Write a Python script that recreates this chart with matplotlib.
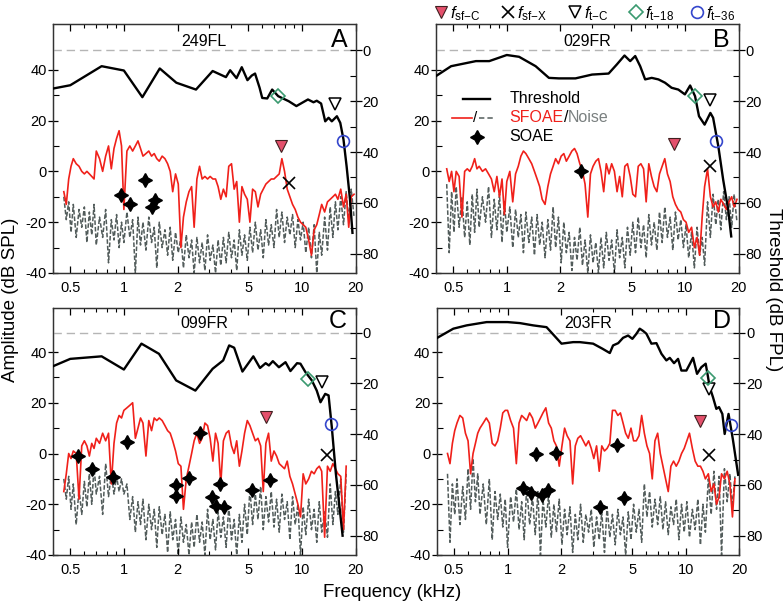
import numpy as np
import matplotlib
matplotlib.use("Agg")
import matplotlib.pyplot as plt
from matplotlib.lines import Line2D
from matplotlib.ticker import FixedLocator, FixedFormatter, NullFormatter

plt.rcParams["font.family"] = ["Liberation Sans", "DejaVu Sans"]
plt.rcParams["mathtext.fontset"] = "custom"
plt.rcParams["mathtext.rm"] = "Liberation Sans"
plt.rcParams["mathtext.it"] = "Liberation Sans:italic"
plt.rcParams["axes.unicode_minus"] = False

nan = float("nan")

# frequency grid (kHz) shared by the SFOAE and noise traces
FREQ_KHZ = [
    0.46, 0.475, 0.49, 0.505, 0.52, 0.54, 0.56, 0.58, 0.60, 0.62,
    0.64, 0.66, 0.68, 0.70, 0.73, 0.76, 0.79, 0.82, 0.85, 0.88,
    0.91, 0.94, 0.97, 1.00, 1.04, 1.08, 1.12, 1.16, 1.20, 1.24,
    1.28, 1.33, 1.38, 1.43, 1.48, 1.53, 1.58, 1.64, 1.70, 1.76,
    1.82, 1.88, 1.95, 2.02, 2.09, 2.16, 2.24, 2.32, 2.40, 2.48,
    2.57, 2.66, 2.75, 2.85, 2.95, 3.05, 3.16, 3.27, 3.38, 3.50,
    3.62, 3.75, 3.88, 4.02, 4.16, 4.30, 4.45, 4.60, 4.76, 4.93,
    5.10, 5.28, 5.47, 5.66, 5.86, 6.06, 6.27, 6.49, 6.72, 6.96,
    7.20, 7.45, 7.71, 7.98, 8.26, 8.55, 8.85, 9.16, 9.48, 9.81,
    10.15, 10.5, 10.9, 11.3, 11.7, 12.1, 12.5, 12.9, 13.4, 13.9,
    14.4, 14.9, 15.4, 15.9, 16.5, 17.1, 17.7, 18.3, 18.9, 19.6,
]

# ---- 249FL (A)
A_SFOAE = [
    -8, -13, -3, 2, 5, 3, 2, 0, -1, 0,
    -1, -2, -3, 8, 5, 0, 6, 10, 1, 9,
    13, 16, 10, -15, 8, 10, 8, 10, 12, 9,
    6, 7, 8, 6, 7, 5, 4, 6, 5, 3,
    0, -8, -1, -5, -30, -18, -12, -8, -6, -22,
    -3, 2, -3, -2, -3, -2, -3, -3, -6, -11,
    -7, -10, 2, 3, -7, -4, -20, -6, -9, -11,
    -20, -7, -8, -14, -9, -7, -5, -4, -3, -3,
    -2, -1, 5, 0, -7, -10, -13, -15, -18, -20,
    -21, -22, -27, -33, -23, -21, -17, -13, -16, -12,
    -11, -10, -9, -11, -7, -14, -9, -22, -10, -9,
]
A_NOISE = [
    -10, -19, -12, -24, -13, -26, -15, -22, -14, -28,
    -16, -25, -13, -29, -18, -26, -15, -36, -19, -27,
    -17, -30, -20, -28, -16, -26, -19, -40, -18, -29,
    -20, -31, -18, -28, -22, -38, -20, -30, -23, -33,
    -22, -35, -24, -32, -26, -38, -25, -34, -27, -40,
    -26, -36, -28, -39, -25, -35, -29, -40, -27, -37,
    -26, -36, -24, -34, -27, -39, -23, -33, -25, -35,
    -22, -32, -20, -31, -23, -34, -19, -29, -21, -30,
    -15, -26, -16, -28, -18, -25, -17, -30, -19, -27,
    -20, -32, -22, -34, -21, -40, -24, -33, -18, -31,
    -14, -26, -12, -23, -10, -21, -8, -19, -7, -18,
]
A_THR_F = [0.40, 0.50, 0.75, 1.0, 1.27, 1.59, 1.97, 2.54, 3.15, 3.74,
           3.95, 4.29, 4.59, 4.94, 5.22, 5.45, 5.78, 5.98, 6.38, 6.80,
           7.35, 8.43, 9.30, 10.8, 11.6, 12.1, 12.8, 13.5, 14.1, 14.7,
           15.7, 16.4, 17.1, 17.8, 18.6, 19.2]
A_THR_DB = [15.0, 13.7, 6.2, 7.9, 18.4, 7.1, 12.7, 15.4, 8.1, 10.5,
            7.8, 10.9, 6.6, 11.7, 9.9, 9.1, 14.7, 18.7, 18.9, 15.4,
            18.0, 20.0, 21.9, 19.3, 20.4, 19.8, 20.9, 27.9, 26.5, 27.9,
            25.9, 28.5, 35.1, 45.6, 58.7, 71.8]
A_SOAE_F = [0.958, 1.08, 1.32, 1.43, 1.49]
A_SOAE_DB = [-9.2, -12.7, -3.5, -14.0, -11.1]

# ---- 029FR (B)
B_SFOAE = [
    1, -4, 0, -8, 0, -2, -18, 0, 1, 0,
    2, 5, 1, 2, 0, 1, -1, -3, -8, -2,
    -10, -3, -17, -4, 0, -12, -1, 2, 6, 8,
    7, 5, 3, 0, -3, -6, -11, -13, -6, -1,
    2, 5, 3, 6, 7, 4, 6, 8, 9, 7,
    3, 0, -5, -18, -1, 2, 4, 5, 0, -8,
    3, -1, 3, 0, -8, -2, -10, 2, 3, -2,
    -9, -10, 2, 3, 1, -12, 3, -2, -6, -8,
    -1, 2, 5, -1, -4, -10, -13, -15, -16, -19,
    -20, -24, -22, -30, -26, -33, -18, -6, 1, -10,
    -14, -12, -16, -11, -13, -15, -12, -10, -14, -11,
]
B_NOISE = [
    -5, -32, -8, -24, -6, -22, -10, -26, -12, -29,
    -9, -24, -7, -22, -10, -20, -6, -26, -11, -23,
    -9, -28, -12, -24, -14, -30, -15, -26, -17, -32,
    -16, -28, -18, -33, -17, -29, -20, -34, -19, -31,
    -14, -30, -18, -36, -20, -32, -24, -39, -26, -35,
    -22, -37, -27, -40, -25, -36, -28, -40, -26, -38,
    -24, -35, -27, -40, -23, -34, -26, -38, -22, -33,
    -20, -32, -18, -30, -21, -34, -17, -29, -20, -31,
    -16, -28, -14, -26, -18, -31, -16, -27, -19, -30,
    -21, -34, -24, -38, -22, -33, -26, -37, -12, -26,
    -9, -21, -11, -23, -8, -19, -10, -22, -9, -20,
]
B_THR_F = [0.40, 0.487, 0.671, 0.797, 1.0, 1.172, 1.452, 1.724, 1.96, 2.43,
           3.01, 3.73, 4.15, 4.58, 4.93, 5.26, 5.61, 5.98, 6.51, 7.10,
           7.73, 8.42, 9.18, 10.0, 10.7, 11.4, 12.0, 12.9, 13.9, 14.4,
           15.4, 16.4, 17.5, 18.2]
B_THR_DB = [10.1, 6.2, 4.2, 4.2, 1.8, 2.5, 6.2, 10.8, 11.0, 11.0,
            9.5, 9.1, 5.5, 2.0, 4.2, 2.2, 6.2, 11.4, 10.8, 11.4,
            12.7, 14.7, 15.4, 17.3, 13.8, 18.0, 25.9, 29.2, 24.6, 26.5,
            37.7, 50.9, 62.7, 73.2]
B_SOAE_F = [2.6]
B_SOAE_DB = [0.0]

# ---- 099FR (C)
C_SFOAE = [
    -15, -8, 0, -2, 1, 0, -18, 3, 5, 3,
    -1, 4, 2, 6, 4, 8, 5, 8, -12, 4,
    12, 15, 14, 17, 18, 19, 20, 6, 10, 14,
    12, -1, 13, 9, 14, 13, 14, 13, 11, 9,
    8, 5, 1, -4, -5, -22, -10, -5, 0, 5,
    8, 4, 6, 12, 11, 6, -3, 8, 4, -12,
    5, 8, 9, 3, 0, 5, -5, 1, 8, 13,
    11, 8, 5, 6, 3, -15, 4, 8, -3, 1,
    -1, -4, -5, -6, -3, -9, -12, -16, -20, -25,
    -8, -12, -10, -7, -8, -6, -5, -7, -33, -5,
    -7, -4, -6, -8, -9, -30, -5, nan, nan, nan,
]
C_NOISE = [
    -10, -18, -9, -22, -12, -28, -14, -24, -11, -21,
    -8, -20, -5, -16, -9, -24, -4, -17, -8, -16,
    -9, -15, -10, -16, -12, -26, -17, -31, -19, -28,
    -18, -34, -20, -30, -22, -37, -21, -32, -24, -39,
    -23, -34, -26, -40, -25, -35, -28, -40, -27, -37,
    -24, -35, -27, -40, -22, -34, -26, -38, -23, -33,
    -25, -37, -21, -34, -26, -40, -24, -35, -20, -32,
    -14, -28, -16, -26, -13, -30, -17, -27, -15, -29,
    -18, -31, -16, -26, -19, -34, -17, -28, -20, -40,
    -21, -32, -18, -30, -22, -35, -19, -31, -23, -33,
    -12, -28, -15, -24, -10, -31, -8, nan, nan, nan,
]
C_THR_F = [0.40, 0.50, 0.75, 1.0, 1.255, 1.574, 1.966, 2.52, 3.15, 3.61,
           3.90, 4.16, 4.63, 5.33, 5.81, 6.25, 6.52, 6.86, 7.42, 8.08,
           8.61, 9.38, 9.80, 10.45, 11.36, 12.1, 12.7, 13.5, 14.1, 14.7,
           15.5, 16.4, 16.9]
C_THR_DB = [13.2, 10.3, 9.3, 14.5, 4.3, 8.3, 18.8, 22.8, 14.2, 10.9,
            5.0, 5.9, 15.3, 9.3, 13.9, 12.0, 12.9, 11.2, 13.6, 11.6,
            15.1, 12.0, 12.2, 15.5, 18.8, 22.8, 27.4, 24.1, 24.7, 37.2,
            55.7, 71.4, 80.0]
C_SOAE_F = [0.552, 0.666, 0.872, 1.035, 1.966, 1.966, 2.33, 2.68, 3.11,
            3.31, 3.47, 3.67, 5.26, 6.57]
C_SOAE_DB = [-0.8, -6.3, -9.3, 4.5, -12.6, -16.6, -9.7, 8.0, -17.3,
             -20.5, -12.0, -21.2, -14.3, -10.4]

# ---- 203FR (D)
D_SFOAE = [
    0, -4, 4, 9, 12, 15, 14, 8, 5, -8,
    0, 4, 8, 10, 12, 14, 12, 4, 3, 5,
    10, 16, 17, 17, 13, 10, -4, 12, 15, 14,
    13, 16, 14, 10, 12, 14, 16, 18, 12, 10,
    5, 3, -5, 3, 10, 7, 5, -12, 3, 6,
    7, 5, 3, 5, 2, -2, 3, -7, 3, 1,
    2, 4, 17, 17, 15, 16, 12, 8, 6, 10,
    5, 5, 7, 15, 8, 3, 0, -10, 5, 8,
    0, -5, -10, -15, -5, -3, -5, -3, 0, 2,
    5, 8, 2, -3, -5, -5, -7, -10, -8, -15,
    -12, -20, -17, -8, -10, -7, -12, -25, -10, nan,
]
D_NOISE = [
    -8, -35, -12, -24, -10, -28, -13, -26, -6, -22,
    -2, -19, -8, -24, -12, -28, -10, -34, -15, -26,
    -16, -29, -18, -37, -17, -27, -14, -30, -19, -34,
    -13, -28, -17, -32, -15, -40, -18, -29, -16, -33,
    -20, -31, -18, -36, -22, -32, -21, -39, -24, -34,
    -20, -35, -24, -31, -22, -37, -25, -34, -23, -39,
    -21, -33, -24, -36, -22, -32, -25, -40, -23, -34,
    -20, -31, -22, -35, -12, -25, -15, -29, -18, -28,
    -17, -30, -19, -32, -21, -28, -18, -34, -20, -31,
    -19, -33, -22, -30, -18, -36, -20, -31, -10, -24,
    -7, -22, -9, -40, -6, -19, -8, -21, -9, nan,
]
D_THR_F = [0.403, 0.496, 0.589, 0.763, 1.0, 1.173, 1.393, 1.655, 2.009, 2.335,
           2.545, 3.022, 3.41, 3.75, 3.91, 4.18, 4.45, 4.75, 5.02, 5.29,
           5.52, 5.77, 6.02, 6.42, 6.85, 7.31, 7.79, 8.14, 8.60, 9.06,
           9.46, 10.09, 11.0, 11.58, 12.24, 12.95, 13.35, 13.63, 14.23, 14.86,
           15.38, 16.06, 16.55, 17.4, 18.4, 19.7]
D_THR_DB = [2.0, -1.6, -2.9, -4.2, -4.2, -3.8, -2.9, -2.2, 4.3, 3.7,
            3.7, 4.3, 6.3, 8.0, 5.0, 4.1, 2.0, 1.1, 2.4, 0.4,
            -1.6, -0.7, 0.4, 4.3, 4.1, 8.3, 10.9, 9.9, 12.0, 10.3,
            14.9, 14.9, 9.9, 16.2, 13.6, 12.2, 17.5, 21.4, 25.4, 30.0,
            29.3, 32.0, 39.9, 32.0, 42.0, 56.0]
D_SOAE_F = [1.224, 1.35, 1.442, 1.57, 1.69, 1.867, 3.29, 4.12, 4.49]
D_SOAE_DB = [-13.6, -15.7, -0.1, -16.3, -14.3, 0.3, -21.2, 3.2, -17.6]

# characteristic frequencies, one entry per panel A-D
FSF_C_F = [7.67, 8.7, 6.25, 12.1]
FSF_C_DB = [9.8, 10.9, 14.3, 12.8]
FSF_X_F = [8.5, 13.8, 13.8, 13.5]
FSF_X_DB = [-4.6, 2.2, -0.4, -0.4]
FT_C_F = [15.3, 13.8, 13.0, 13.6]
FT_C_DB = [21.0, 19.7, 19.5, 22.1]
FT_18_F = [7.35, 11.4, 10.87, 13.3]
FT_18_DB = [18.0, 18.0, 18.2, 17.9]
FT_36_F = [16.9, 14.9, 14.5, 18.0]
FT_36_DB = [35.7, 35.7, 35.9, 36.2]

EARS = ["249FL", "029FR", "099FR", "203FR"]
LETTERS = ["A", "B", "C", "D"]

X_MAJOR = [0.5, 1, 2, 5, 10, 20]
X_LABELS = ["0.5", "1", "2", "5", "10", "20"]
X_MINOR = [0.4, 0.6, 0.7, 0.8, 0.9, 3, 4, 6, 7, 8, 9]

RED = "#f0201a"
NOISE_C = "#525c5b"
PINK = "#e4506c"
GREEN = "#3a9a70"
BLUE = "#3446cc"
OFFSET = 47.6  # threshold (dB FPL) that sits at 0 dB SPL
STAR = (4, 1, 0)

# marker styles for the five characteristic frequencies
MK_FSF_C = dict(ls="none", marker="v", ms=8, mfc=PINK, mec="#402020", mew=0.8)
MK_FSF_X = dict(ls="none", marker="x", ms=8.5, mec="black", mew=1.2)
MK_FT_C = dict(ls="none", marker="v", ms=8, mfc="white", mec="black", mew=1.1)
MK_FT_18 = dict(ls="none", marker="D", ms=7, mfc="none", mec=GREEN, mew=1.2)
MK_FT_36 = dict(ls="none", marker="o", ms=8.5, mfc="none", mec=BLUE, mew=1.2)

fig = plt.figure(figsize=(7.84, 6.08), dpi=100)

rects = [
    [0.0676, 0.551, 0.386, 0.4095],
    [0.556, 0.551, 0.386, 0.4095],
    [0.0676, 0.0872, 0.386, 0.406],
    [0.557, 0.0872, 0.386, 0.406],
]
tops = [58.0, 58.0, 57.3, 57.3]

series = [
    (A_SFOAE, A_NOISE, A_THR_F, A_THR_DB, A_SOAE_F, A_SOAE_DB),
    (B_SFOAE, B_NOISE, B_THR_F, B_THR_DB, B_SOAE_F, B_SOAE_DB),
    (C_SFOAE, C_NOISE, C_THR_F, C_THR_DB, C_SOAE_F, C_SOAE_DB),
    (D_SFOAE, D_NOISE, D_THR_F, D_THR_DB, D_SOAE_F, D_SOAE_DB),
]

axes = []
for i, (sf, noise, thr_f, thr_db, so_f, so_db) in enumerate(series):
    ax = fig.add_axes(rects[i])
    ax2 = ax.twinx()
    axes.append(ax)

    ax.plot(FREQ_KHZ, noise, color=NOISE_C, lw=1.1, ls=(0, (3, 1.3)), zorder=1)
    ax.plot(FREQ_KHZ, sf, color=RED, lw=1.2, zorder=2)
    ax.plot(so_f, so_db, ls="none", marker=STAR, ms=10, color="black", zorder=4)
    ax.plot(FSF_C_F[i], FSF_C_DB[i], zorder=5, **MK_FSF_C)
    ax.plot(FSF_X_F[i], FSF_X_DB[i], zorder=5, **MK_FSF_X)

    ax2.axhline(0, color="#b5b5b5", lw=1.0, ls=(0, (6, 3.5)), zorder=1)
    ax2.plot(thr_f, thr_db, color="black", lw=1.7, zorder=3)
    ax2.plot(FT_C_F[i], FT_C_DB[i], zorder=5, **MK_FT_C)
    ax2.plot(FT_18_F[i], FT_18_DB[i], zorder=5, **MK_FT_18)
    ax2.plot(FT_36_F[i], FT_36_DB[i], zorder=5, **MK_FT_36)

    ax.set_xscale("log")
    ax.set_xlim(0.4, 20)
    ax.set_ylim(-40, tops[i])
    ax2.set_ylim(OFFSET + 40, OFFSET - tops[i])

    ax.xaxis.set_major_locator(FixedLocator(X_MAJOR))
    ax.xaxis.set_major_formatter(FixedFormatter(X_LABELS))
    ax.xaxis.set_minor_locator(FixedLocator(X_MINOR))
    ax.xaxis.set_minor_formatter(NullFormatter())
    ax.set_yticks([-40, -20, 0, 20, 40])
    ax.set_yticks([-30, -10, 10, 30], minor=True)
    ax2.set_yticks([0, 20, 40, 60, 80])
    ax2.set_yticks([10, 30, 50, 70], minor=True)

    ax.tick_params(axis="x", which="both", direction="in", top=True,
                   labelsize=10.5, pad=6)
    ax.tick_params(axis="x", which="major", length=5, width=0.9)
    ax.tick_params(axis="x", which="minor", length=3, width=0.8)
    ax.tick_params(axis="y", which="major", direction="inout", length=7,
                   width=0.9, labelsize=10.5, pad=1)
    ax.tick_params(axis="y", which="minor", direction="in", length=4, width=0.8)
    ax2.tick_params(axis="y", which="major", direction="inout", length=8,
                    width=0.9, labelsize=10.5, pad=1)
    ax2.tick_params(axis="y", which="minor", direction="in", length=4, width=0.8)
    for a in (ax, ax2):
        for s in a.spines.values():
            s.set_linewidth(0.9)
            s.set_color("#333333")

    ty = 0.93 if i < 2 else 0.938
    ly = 0.935 if i < 2 else 0.947
    ax.text(0.5, ty, EARS[i], transform=ax.transAxes, ha="center",
            va="center", fontsize=11.5)
    ax.text(0.972, ly, LETTERS[i], transform=ax.transAxes, ha="right",
            va="center", fontsize=18)

# in-panel key (panel B)
axb = axes[1]
tr = axb.transAxes
axb.add_line(Line2D([0.09, 0.179], [0.70, 0.70], transform=tr, color="black", lw=1.7))
axb.text(0.243, 0.70, "Threshold", transform=tr, va="center", fontsize=11.5)
axb.add_line(Line2D([0.054, 0.12], [0.624, 0.624], transform=tr, color=RED, lw=1.2))
axb.text(0.131, 0.624, "/", transform=tr, va="center", ha="center", fontsize=11)
axb.add_line(Line2D([0.143, 0.196], [0.624, 0.624], transform=tr, color=NOISE_C,
                    lw=1.1, ls=(0, (3.5, 2))))
t1 = axb.text(0.243, 0.624, "SFOAE", transform=tr, va="center", fontsize=11.5, color=RED)
t2 = axb.annotate("/", xy=(1, 0), xycoords=t1, va="bottom", fontsize=11.5, color="black")
axb.annotate("Noise", xy=(1, 0), xycoords=t2, va="bottom", fontsize=11.5, color="#7a8080")
axb.add_line(Line2D([0.135], [0.547], transform=tr, ls="none", marker=STAR,
                    ms=10, color="black"))
axb.text(0.243, 0.547, "SOAE", transform=tr, va="center", fontsize=11.5)

# marker key across the top (figure pixel positions / 784)
key_styles = [MK_FSF_C, MK_FSF_X, MK_FT_C, MK_FT_18, MK_FT_36]
key_labels = [r"$f_{\mathregular{sf{-}C}}$", r"$f_{\mathregular{sf{-}X}}$",
              r"$f_{\mathregular{t{-}C}}$", r"$f_{\mathregular{t{-}18}}$",
              r"$f_{\mathregular{t{-}36}}$"]
key_x = [441, 508, 575, 636, 697]
for style, lab, px in zip(key_styles, key_labels, key_x):
    fig.add_artist(Line2D([px / 784], [0.981], transform=fig.transFigure, **style))
    fig.text((px + 9) / 784, 0.978, lab, ha="left", va="center", fontsize=12)

fig.text(0.013, 0.507, "Amplitude (dB SPL)", rotation=90, ha="center",
         va="center", fontsize=13.5)
fig.text(0.986, 0.523, "Threshold (dB FPL)", rotation=-90, ha="center",
         va="center", fontsize=13.5)
fig.text(0.5, 0.026, "Frequency (kHz)", ha="center", va="center", fontsize=13.5)

fig.savefig("out.png", dpi=100)
